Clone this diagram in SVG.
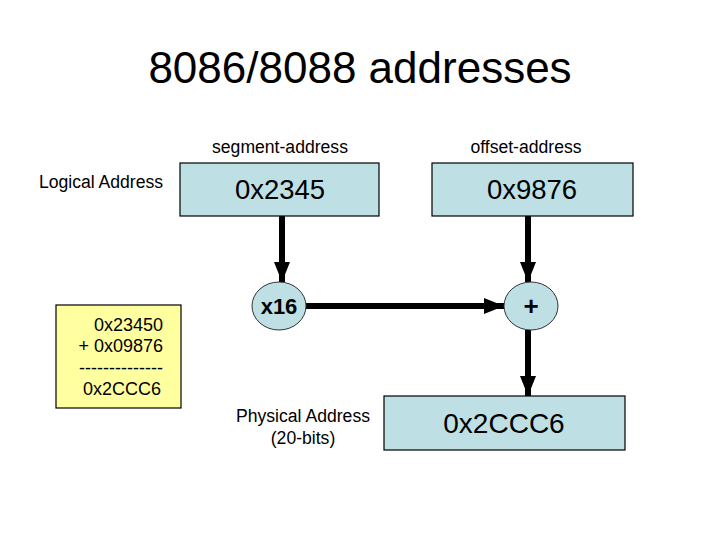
<svg xmlns="http://www.w3.org/2000/svg" width="720" height="540" viewBox="0 0 720 540">
<defs>
<style>
text{font-family:"Liberation Sans",Arial,sans-serif;fill:#000}
.box{fill:#BEDFE3;stroke:#000;stroke-width:1.2}
.ell{fill:#BEDFE3;stroke:#333;stroke-width:1}
.note{fill:#FFFFA0;stroke:#000;stroke-width:1.2}
.lbl{font-size:17.6px;text-anchor:middle}
.val{font-size:27.5px;text-anchor:middle}
.conn{stroke:#000;stroke-width:6;fill:none;marker-end:url(#ah)}
.sum{font-size:18px;text-anchor:end}
</style>
<marker id="ah" markerUnits="userSpaceOnUse" markerWidth="20" markerHeight="20" viewBox="0 0 20 20" refX="20" refY="10" orient="auto">
<path d="M0,2 L20,10 L0,18 Z" fill="#000"/>
</marker>
</defs>
<rect width="720" height="540" fill="#fff"/>
<text x="360" y="83" font-size="44" text-anchor="middle">8086/8088 addresses</text>
<text class="lbl" x="280" y="153">segment-address</text>
<text class="lbl" x="526" y="153">offset-address</text>
<text class="lbl" x="101" y="188">Logical Address</text>
<g id="conns">
<line class="conn" x1="282" y1="216" x2="282" y2="282"/>
<line class="conn" x1="528" y1="216" x2="528" y2="282"/>
<line class="conn" x1="306" y1="306" x2="504" y2="306"/>
<line class="conn" x1="528" y1="330" x2="528" y2="396"/>
</g>
<g id="seg">
<rect class="box" x="180" y="163" width="199" height="53"/>
<text class="val" x="280" y="199">0x2345</text>
</g>
<g id="off">
<rect class="box" x="432" y="163" width="201" height="53"/>
<text class="val" x="532" y="199">0x9876</text>
</g>
<g id="mul">
<ellipse class="ell" cx="279" cy="306" rx="27" ry="24"/>
<text x="279" y="314" font-size="22" font-weight="bold" text-anchor="middle">x16</text>
</g>
<g id="add">
<ellipse class="ell" cx="531" cy="306" rx="27" ry="24"/>
<text x="531" y="315" font-size="26" font-weight="bold" text-anchor="middle">+</text>
</g>
<g id="phys">
<rect class="box" x="384" y="396" width="241" height="54"/>
<text x="504" y="433" font-size="28" text-anchor="middle">0x2CCC6</text>
</g>
<text class="lbl" x="303" y="422">Physical Address</text>
<text class="lbl" x="303" y="444">(20-bits)</text>
<g id="calc">
<rect class="note" x="56" y="305" width="125" height="103"/>
<text class="sum" x="163" y="331">0x23450</text>
<text class="sum" x="163" y="352">+ 0x09876</text>
<text class="sum" x="163" y="374">--------------</text>
<text class="sum" x="161" y="395">0x2CCC6</text>
</g>
</svg>
